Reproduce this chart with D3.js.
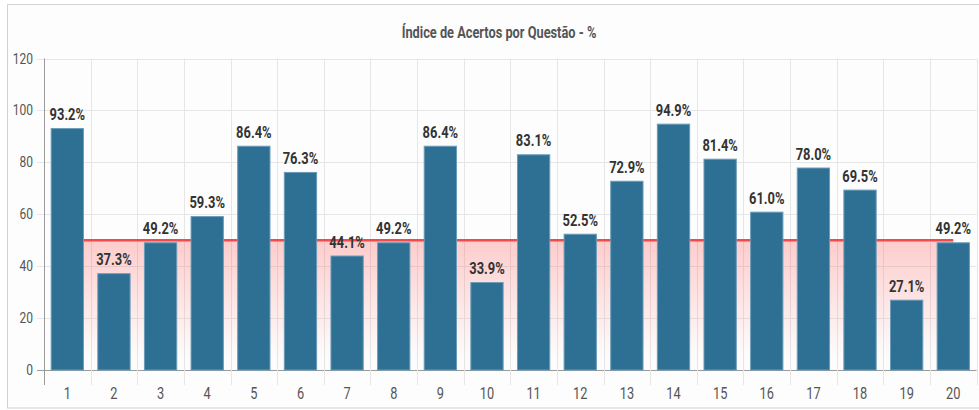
<!DOCTYPE html>
<html>
<head>
<meta charset="utf-8">
<script src="https://cdn.jsdelivr.net/npm/d3@7/dist/d3.min.js"></script>
<style>
  html, body { margin: 0; padding: 0; background: #ffffff; }
  svg { display: block; font-family: Roboto, "Liberation Sans", sans-serif; }
</style>
</head>
<body>
<svg id="chart" width="979" height="410"></svg>
<script>
// Questões e percentual de acertos
const questions = ["1","2","3","4","5","6","7","8","9","10","11","12","13","14","15","16","17","18","19","20"];
const hitRates = [93.2, 37.3, 49.2, 59.3, 86.4, 76.3, 44.1, 49.2, 86.4, 33.9, 83.1, 52.5, 72.9, 94.9, 81.4, 61.0, 78.0, 69.5, 27.1, 49.2];
const targetLine = [50, 50, 50, 50, 50, 50, 50, 50, 50, 50, 50, 50, 50, 50, 50, 50, 50, 50, 50, 50];
const yTicks = [0, 20, 40, 60, 80, 100, 120];
const chartTitle = "Índice de Acertos por Questão - %";

const svg = d3.select("#chart");
const plot = { left: 44, right: 976.6, top: 58.5, bottom: 370 };

// outer panel
svg.append("rect")
  .attr("x", 7.5).attr("y", 4.5).attr("width", 990).attr("height", 403.5)
  .attr("fill", "#fdfdfd").attr("stroke", "#d2d2d2").attr("stroke-width", 1);

const x = d3.scaleBand().domain(questions).range([plot.left, plot.right])
  .paddingInner(0.286).paddingOuter(0.143);
const y = d3.scaleLinear().domain([0, 120]).range([plot.bottom, plot.top]);
const step = x.step();

// narrow lettering via horizontal scaling
function squeezedText(sel, px, py, k) {
  return sel.attr("transform", `translate(${px},${py}) scale(${k},1)`);
}

// title
squeezedText(svg.append("text"), 499, 38, 0.8)
  .attr("text-anchor", "middle")
  .attr("font-size", 16).attr("font-weight", "bold").attr("fill", "#555")
  .text(chartTitle);

// horizontal grid + y ticks
const g = svg.append("g");
g.selectAll("line.hgrid").data(yTicks).join("line")
  .attr("class", "hgrid")
  .attr("x1", plot.left - 7).attr("x2", plot.right)
  .attr("y1", d => Math.round(y(d)) + 0.5).attr("y2", d => Math.round(y(d)) + 0.5)
  .attr("stroke", d => d === 0 ? "#9a9a9a" : "#e6e6e6").attr("stroke-width", 1);

// vertical grid at category boundaries, extending as tick marks below the axis
const bounds = d3.range(questions.length + 1).map(i => plot.left + i * step);
g.selectAll("line.vgrid").data(bounds).join("line")
  .attr("class", "vgrid")
  .attr("x1", d => Math.round(d) + 0.5).attr("x2", d => Math.round(d) + 0.5)
  .attr("y1", plot.top).attr("y2", plot.bottom + 15)
  .attr("stroke", (d, i) => i === 0 ? "#9a9a9a" : "#e6e6e6").attr("stroke-width", 1);

// y tick labels
g.selectAll("text.ylab").data(yTicks).join("text")
  .attr("class", "ylab")
  .each(function (d) { squeezedText(d3.select(this), 33, y(d) + 5, 0.8); })
  .attr("text-anchor", "end")
  .attr("font-size", 15).attr("fill", "#555")
  .text(d => d);

// x tick labels
g.selectAll("text.xlab").data(questions).join("text")
  .attr("class", "xlab")
  .each(function (d) { squeezedText(d3.select(this), x(d) + x.bandwidth() / 2, 399, 0.8); })
  .attr("text-anchor", "middle")
  .attr("font-size", 16).attr("fill", "#555")
  .text(d => d);

// target line with fading fill below
const grad = svg.append("defs").append("linearGradient")
  .attr("id", "targetFill").attr("x1", 0).attr("x2", 0).attr("y1", 0).attr("y2", 1);
grad.append("stop").attr("offset", "0%").attr("stop-color", "#ff5a5a").attr("stop-opacity", 0.3);
grad.append("stop").attr("offset", "85%").attr("stop-color", "#ff5a5a").attr("stop-opacity", 0.02);
grad.append("stop").attr("offset", "100%").attr("stop-color", "#ff5a5a").attr("stop-opacity", 0.0);

const cx = (d, i) => x(questions[i]) + x.bandwidth() / 2;
const area = d3.area().x(cx).y0(y(0)).y1(d => y(d));
const line = d3.line().x(cx).y(d => y(d));

svg.append("path").datum(targetLine)
  .attr("d", area).attr("fill", "url(#targetFill)");
svg.append("path").datum(targetLine)
  .attr("d", line).attr("fill", "none").attr("stroke", "#f44a4a").attr("stroke-width", 2.5);

// bars
svg.append("g").selectAll("rect").data(hitRates).join("rect")
  .attr("x", (d, i) => x(questions[i]) + 0.5)
  .attr("width", x.bandwidth() - 1)
  .attr("y", d => y(d) + 0.5)
  .attr("height", d => y(0) - y(d) - 0.5)
  .attr("fill", "#2e7094").attr("stroke", "#6b9cb8").attr("stroke-width", 1);

// value labels
svg.append("g").selectAll("text").data(hitRates).join("text")
  .each(function (d, i) { squeezedText(d3.select(this), cx(d, i), y(d) - 8, 0.76); })
  .attr("text-anchor", "middle")
  .attr("font-size", 17).attr("font-weight", "bold").attr("fill", "#333")
  .text(d => d.toFixed(1) + "%");
</script>
</body>
</html>
